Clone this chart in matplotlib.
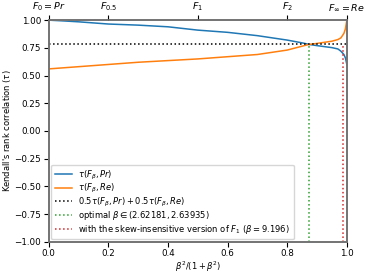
import numpy as np
import matplotlib
matplotlib.use('Agg')
import matplotlib.pyplot as plt

# x = beta^2 / (1 + beta^2)
x = [0.0, 0.05, 0.1, 0.15, 0.2, 0.3, 0.4, 0.5, 0.6, 0.7, 0.8, 0.85, 0.873,
     0.9, 0.95, 0.97, 0.98, 0.99, 0.995, 1.0]
tau_pr = [1.0, 0.993, 0.985, 0.975, 0.965, 0.955, 0.94, 0.91, 0.89, 0.86,
          0.82, 0.795, 0.781, 0.77, 0.752, 0.74, 0.72, 0.69, 0.66, 0.6]
tau_re = [0.56, 0.57, 0.58, 0.59, 0.60, 0.62, 0.635, 0.65, 0.67, 0.69,
          0.73, 0.765, 0.781, 0.79, 0.81, 0.825, 0.84, 0.88, 0.92, 1.0]
avg_tau = 0.781
beta_opt = 2.63
beta_skew = 9.196

top_ticks = [0.0, 0.2, 0.5, 0.8, 1.0]
top_labels = [r'$F_0 = Pr$', r'$F_{0.5}$', r'$F_1$', r'$F_2$', r'$F_\infty = Re$']


def to_x(b):
    return b ** 2 / (1 + b ** 2)


def main():
    plt.rcParams['font.size'] = 6
    fig = plt.figure(figsize=(3.69, 2.76), dpi=100)
    ax = fig.add_axes([0.132, 0.124, 0.808, 0.803])

    ax.plot(x, tau_pr, color='#1f77b4', lw=1.1, label=r'$\tau(F_\beta, Pr)$')
    ax.plot(x, tau_re, color='#ff7f0e', lw=1.1, label=r'$\tau(F_\beta, Re)$')
    ax.axhline(avg_tau, color='black', ls=':', lw=1.1,
               label=r'$0.5\tau(F_\beta, Pr) + 0.5\tau(F_\beta, Re)$')
    ax.vlines(to_x(beta_opt), -1, avg_tau, color='#2ca02c', ls=':', lw=1.1,
              label=r'optimal $\beta \in (2.62181, 2.63935)$')
    ax.vlines(to_x(beta_skew), -1, avg_tau, color='#d62728', ls=':', lw=1.1,
              label=r'with the skew-insensitive version of $F_1$ ($\beta = 9.196$)')

    ax.set_xlim(0, 1)
    ax.set_ylim(-1, 1)
    ax.set_yticks(np.arange(-1, 1.01, 0.25))
    ax.tick_params(pad=2, labelsize=6.3)
    ax.set_xlabel(r'$\beta^2 / (1 + \beta^2)$', labelpad=1)
    ax.set_ylabel(r"Kendall's rank correlation ($\tau$)", labelpad=1)
    ax.legend(loc='lower left', fontsize=6, labelspacing=0.05,
              borderaxespad=0.3, borderpad=0.45)

    top = ax.twiny()
    top.set_xlim(0, 1)
    top.set_xticks(top_ticks)
    top.set_xticklabels(top_labels)
    top.tick_params(pad=2, labelsize=6.8)

    for a in (ax, top):
        for s in a.spines.values():
            s.set_color('0.45')
            s.set_linewidth(1.2)

    fig.savefig('out.png', dpi=100)


if __name__ == '__main__':
    main()
